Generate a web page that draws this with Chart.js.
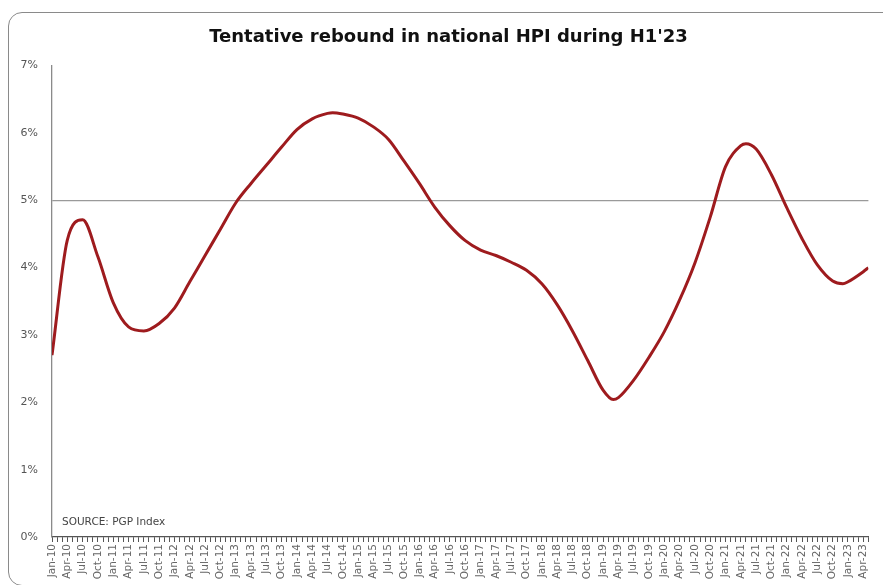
<!DOCTYPE html>
<html>
<head>
<meta charset="utf-8">
<script src="https://cdn.jsdelivr.net/npm/chart.js@4/dist/chart.umd.min.js"></script>
<style>
  html, body { margin: 0; padding: 0; background: #fff; overflow: hidden; }
  #wrap { position: relative; width: 883px; height: 585px; overflow: hidden; }
  #frame {
    position: absolute; left: 8px; top: 12px; width: 900px; height: 574px;
    border: 1.5px solid #8a8a8a; border-radius: 14px; box-sizing: border-box;
  }
  canvas { position: absolute; left: 7px; top: 0; }
</style>
</head>
<body>
<div id="wrap">
  <div id="frame"></div>
  <canvas id="hpi" width="876" height="585"></canvas>
</div>
<script>
// quarterly tick labels along the x axis
const TICK_LABELS = [
  'Jan-10','Apr-10','Jul-10','Oct-10','Jan-11','Apr-11','Jul-11','Oct-11',
  'Jan-12','Apr-12','Jul-12','Oct-12','Jan-13','Apr-13','Jul-13','Oct-13',
  'Jan-14','Apr-14','Jul-14','Oct-14','Jan-15','Apr-15','Jul-15','Oct-15',
  'Jan-16','Apr-16','Jul-16','Oct-16','Jan-17','Apr-17','Jul-17','Oct-17',
  'Jan-18','Apr-18','Jul-18','Oct-18','Jan-19','Apr-19','Jul-19','Oct-19',
  'Jan-20','Apr-20','Jul-20','Oct-20','Jan-21','Apr-21','Jul-21','Oct-21',
  'Jan-22','Apr-22','Jul-22','Oct-22','Jan-23','Apr-23'
];

// readings: quarter starts plus the turning points
const PERIODS = [
  'Jan-10','Apr-10','Jul-10','Oct-10','Jan-11','Apr-11','Jul-11','Oct-11',
  'Jan-12','Apr-12','Jul-12','Oct-12','Jan-13','Apr-13','Jul-13','Oct-13',
  'Jan-14','Apr-14','Jul-14','Aug-14','Oct-14','Jan-15','Apr-15','Jul-15','Oct-15',
  'Jan-16','Apr-16','Jul-16','Oct-16','Jan-17','Apr-17','Jul-17','Oct-17',
  'Jan-18','Apr-18','Jul-18','Oct-18','Jan-19','Mar-19','Apr-19','Jul-19','Oct-19',
  'Jan-20','Apr-20','Jul-20','Oct-20','Jan-21','Apr-21','May-21','Jul-21','Oct-21',
  'Jan-22','Apr-22','Jul-22','Oct-22','Dec-22','Jan-23','Apr-23','May-23'
];
const HPI = [
  2.70, 4.41, 4.71, 4.16, 3.48, 3.12, 3.06, 3.17,
  3.40, 3.79, 4.18, 4.57, 4.96, 5.25, 5.52, 5.79,
  6.05, 6.21, 6.29, 6.30, 6.28, 6.22, 6.09, 5.90, 5.58,
  5.25, 4.90, 4.62, 4.40, 4.26, 4.18, 4.08, 3.96,
  3.76, 3.45, 3.06, 2.62, 2.18, 2.04, 2.07, 2.33, 2.67,
  3.05, 3.52, 4.07, 4.75, 5.50, 5.81, 5.84, 5.76, 5.38,
  4.89, 4.43, 4.04, 3.80, 3.76, 3.79, 3.94, 4.00
];

const Y_TICKS = [0, 1, 2, 3, 4, 5, 6, 7];
const REF_LINE = 5;

const MONTHS = ['Jan','Feb','Mar','Apr','May','Jun','Jul','Aug','Sep','Oct','Nov','Dec'];
function monthIndex(label) {
  const [m, y] = label.split('-');
  return (parseInt(y, 10) - 10) * 12 + MONTHS.indexOf(m);
}

const points = PERIODS.map((p, i) => ({ x: monthIndex(p), y: HPI[i] }));
const lastMonth = monthIndex(PERIODS[PERIODS.length - 1]);

const FONT = "'DejaVu Sans', 'Liberation Sans', sans-serif";

// "SOURCE: PGP Index" note inside the plot
const sourcePlugin = {
  id: 'sourceNote',
  afterDraw(chart) {
    const { ctx, chartArea } = chart;
    ctx.save();
    ctx.font = `10.5px ${FONT}`;
    ctx.fillStyle = '#444';
    ctx.textAlign = 'left';
    ctx.textBaseline = 'middle';
    ctx.fillText('SOURCE: PGP Index', chartArea.left + 10, chartArea.bottom - 15);
    ctx.restore();
  },
};

new Chart(document.getElementById('hpi'), {
  type: 'line',
  data: {
    datasets: [{
      label: 'HPI',
      data: points,
      borderColor: '#9e1b1e',
      borderWidth: 3,
      pointRadius: 0,
      cubicInterpolationMode: 'monotone',
      fill: false,
    }],
  },
  options: {
    responsive: false,
    animation: false,
    layout: { padding: { left: 10, right: 3, top: 0, bottom: 0 } },
    plugins: {
      legend: { display: false },
      tooltip: { enabled: false },
      title: {
        display: true,
        text: "Tentative rebound in national HPI during H1'23",
        color: '#111',
        font: { family: FONT, size: 18, weight: 'bold' },
        padding: { top: 27, bottom: 17 },
      },
    },
    scales: {
      x: {
        type: 'linear',
        min: 0,
        max: lastMonth,
        afterFit: s => { s.height = 48; },
        ticks: {
          stepSize: 1,
          autoSkip: false,
          minRotation: 90,
          maxRotation: 90,
          padding: 2,
          color: '#666',
          font: { family: FONT, size: 10.5 },
          callback: v => (v % 3 === 0 ? TICK_LABELS[v / 3] : ''),
        },
        grid: { drawOnChartArea: false, tickLength: 5, color: '#555', lineWidth: 1 },
        border: { color: '#555', width: 1.2 },
      },
      y: {
        min: Y_TICKS[0],
        max: Y_TICKS[Y_TICKS.length - 1],
        afterFit: s => { s.width = 35; },
        afterBuildTicks: s => { s.ticks = Y_TICKS.map(v => ({ value: v })); },
        ticks: {
          padding: 14,
          color: '#555',
          font: { family: FONT, size: 11 },
          callback: v => v + '%',
        },
        grid: {
          drawTicks: false,
          color: c => (c.tick && c.tick.value === REF_LINE ? '#9a9a9a' : 'rgba(0,0,0,0)'),
          lineWidth: 1.3,
        },
        border: { color: '#8a8a8a', width: 1.3 },
      },
    },
  },
  plugins: [sourcePlugin],
});
</script>
</body>
</html>
